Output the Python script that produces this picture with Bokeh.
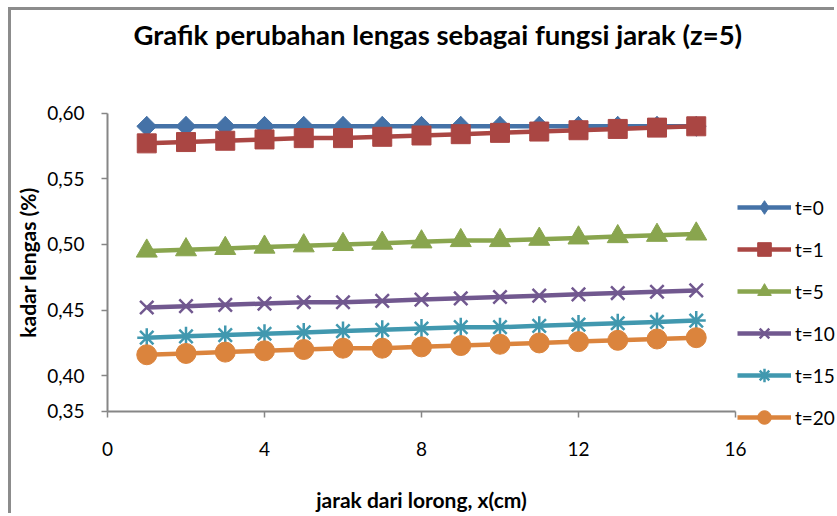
from bokeh.plotting import figure
from bokeh.models import (FixedTicker, Legend, LegendItem, Range1d, Label)
from bokeh.embed import file_html
from bokeh.resources import INLINE
import math

# ---- data ----
x_cm = [1, 2, 3, 4, 5, 6, 7, 8, 9, 10, 11, 12, 13, 14, 15]
t0 = [0.590, 0.590, 0.590, 0.590, 0.590, 0.590, 0.590, 0.590, 0.590, 0.590, 0.590, 0.590, 0.590, 0.590, 0.590]
t1 = [0.577, 0.578, 0.579, 0.580, 0.581, 0.581, 0.582, 0.583, 0.584, 0.585, 0.586, 0.587, 0.588, 0.589, 0.590]
t5 = [0.495, 0.496, 0.497, 0.498, 0.499, 0.500, 0.501, 0.502, 0.503, 0.503, 0.504, 0.505, 0.506, 0.507, 0.508]
t10 = [0.452, 0.453, 0.454, 0.455, 0.456, 0.456, 0.457, 0.458, 0.459, 0.460, 0.461, 0.462, 0.463, 0.464, 0.465]
t15 = [0.429, 0.430, 0.431, 0.432, 0.433, 0.434, 0.435, 0.436, 0.437, 0.437, 0.438, 0.439, 0.440, 0.441, 0.442]
t20 = [0.416, 0.417, 0.418, 0.419, 0.420, 0.421, 0.421, 0.422, 0.423, 0.424, 0.425, 0.426, 0.427, 0.428, 0.429]

series_names = ["t=0", "t=1", "t=5", "t=10", "t=15", "t=20"]
series_values = [t0, t1, t5, t10, t15, t20]

x_ticks = [0, 4, 8, 12, 16]
x_axis_span = (0, 16)
y_floor = 0.3728          # where the reference draws its bottom axis (labelled 0,35)
y_top = 0.60
y_ticks = [y_floor, 0.40, 0.45, 0.50, 0.55, 0.60]
y_tick_labels = ["0,35", "0,40", "0,45", "0,50", "0,55", "0,60"]

title_text = "Grafik perubahan lengas sebagai fungsi jarak  (z=5)"
x_title = "jarak dari lorong, x(cm)"
y_title = "kadar lengas (%)"

# ---- layout: the frame fills the whole canvas, axes are pinned inside it ----
W, H = 826, 506
view_x = (-2.446, 18.599)
view_y = (0.2928, 0.6782)

colors = ["#4572A7", "#AA4643", "#89A54E", "#71588F", "#4198AF", "#DB843D"]
markers = ["square", "square", "triangle", "x", "asterisk", "circle"]
legend_markers = ["diamond", None, None, None, None, None]
angles = [math.pi / 4, 0, 0, 0, 0, 0]
sizes = [14, 19, 21, 19, 19, 20]
FONT = "Lato"

p = figure(width=W, height=H, output_backend="svg", toolbar_location=None,
           x_range=Range1d(*view_x), y_range=Range1d(*view_y),
           min_border=0, min_border_left=0, min_border_right=0,
           min_border_top=0, min_border_bottom=0)
p.background_fill_color = "white"
p.border_fill_color = "white"
p.outline_line_color = None
p.xgrid.visible = False
p.ygrid.visible = False
p.title.visible = False

for ax in (p.xaxis[0], p.yaxis[0]):
    ax.axis_line_color = "#868686"
    ax.axis_line_width = 2
    ax.major_tick_line_color = "#868686"
    ax.major_tick_line_width = 1.5
    ax.major_tick_out = 6
    ax.major_tick_in = 0
    ax.minor_tick_line_color = None
    ax.major_label_text_font = FONT
    ax.major_label_text_font_size = "19px"
    ax.major_label_text_color = "black"
    ax.axis_label_text_font = FONT
    ax.axis_label_text_font_style = "bold"
    ax.axis_label_text_color = "black"

p.xaxis.fixed_location = y_floor
p.xaxis.bounds = x_axis_span
p.xaxis.ticker = FixedTicker(ticks=x_ticks)
p.xaxis.major_label_standoff = 25
p.xaxis.axis_label = x_title
p.xaxis.axis_label_text_font_size = "21px"
p.xaxis.axis_label_standoff = 27

p.yaxis.fixed_location = x_axis_span[0]
p.yaxis.bounds = (y_floor, y_top)
p.yaxis.ticker = FixedTicker(ticks=y_ticks)
p.yaxis.major_label_overrides = {v: s for v, s in zip(y_ticks, y_tick_labels)}
p.yaxis.major_label_standoff = 17
p.yaxis.axis_label = y_title
p.yaxis.axis_label_text_font_size = "21px"
p.yaxis.axis_label_standoff = 4

items = []
for name, vals, c, m, lm, a, s in zip(series_names, series_values, colors, markers,
                                       legend_markers, angles, sizes):
    lw = 2.5 if m in ("x", "asterisk") else 1
    lr = p.line(x_cm, vals, line_color=c, line_width=4.5)
    key = None
    if lm is not None:
        # hidden under the rotated squares; gives the legend an upright diamond
        key = p.scatter(x_cm, vals, marker=lm, size=19.5, fill_color=c,
                        line_color=c, line_width=1)
    sr = p.scatter(x_cm, vals, marker=m, size=s, angle=a, fill_color=c,
                   line_color=c, line_width=lw)
    items.append(LegendItem(label=name, renderers=[lr, key if key is not None else sr]))

legend = Legend(items=items, location=(726, 82), orientation="vertical",
                glyph_width=54, glyph_height=34, label_height=34, spacing=8,
                label_standoff=4, padding=0, margin=0,
                label_text_font=FONT, label_text_font_size="19px",
                label_text_color="black",
                border_line_color=None, background_fill_alpha=0)
p.add_layout(legend)

title = Label(x=122, y=H - 24, x_units="screen", y_units="screen", text=title_text,
              text_font=FONT, text_font_size="27.5px", text_font_style="bold",
              text_color="black", text_align="left", text_baseline="middle")
p.add_layout(title)

p.styles = {"margin-left": "8px", "margin-top": "7px",
            "border-left": "3px solid #8c8c8c", "border-top": "3px solid #8c8c8c"}

open("out.html", "w").write(file_html(p, INLINE))
